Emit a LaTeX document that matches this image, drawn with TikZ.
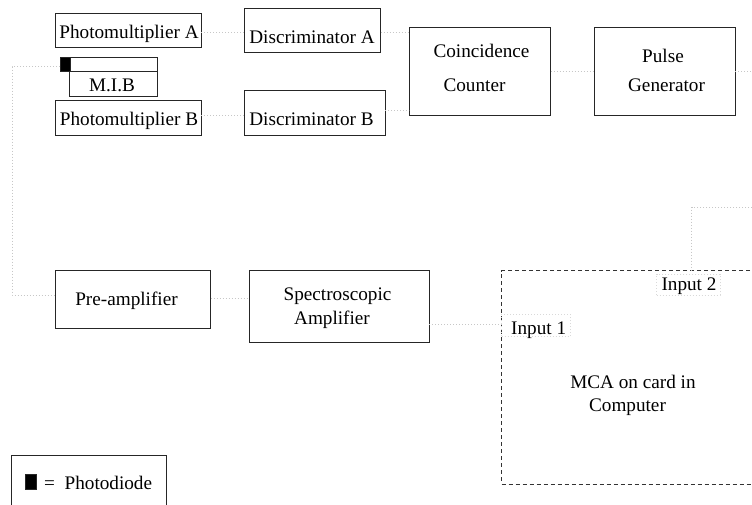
\documentclass[tikz,border=0pt]{standalone}
\usepackage{fontspec}
\setmainfont{Liberation Serif}
\begin{document}
\begin{tikzpicture}[x=1pt,y=-1pt,
  box/.style={draw=black!85, line width=0.8pt, inner sep=0pt, outer sep=0pt, anchor=north west},
  dbox/.style={draw=black!80, line width=0.8pt, dash pattern=on 4pt off 3pt, inner sep=0pt, outer sep=0pt, anchor=north west},
  lblbox/.style={draw=black!15, line width=0.6pt, dash pattern=on 1pt off 2pt, inner sep=0pt, outer sep=0pt, anchor=north west},
  lbl/.style={inner sep=0pt, anchor=base, font=\fontsize{19.2}{23}\selectfont},
  wire/.style={draw=black!22, line width=0.7pt, dash pattern=on 1pt off 2pt}]
\clip (0,0) rectangle (752,504);
% boxes
\node[box, minimum width=146pt, minimum height=34pt] (pa) at (55,13) {};
\node[box, minimum width=97pt, minimum height=14.5pt] (strip) at (60,57) {};
\node[box, fill=black, minimum width=10pt, minimum height=14.5pt] (diode) at (60,57) {};
\node[box, minimum width=88pt, minimum height=24.5pt] (mib) at (69,71.5) {};
\node[box, minimum width=146pt, minimum height=35pt] (pb) at (55,100) {};
\node[box, minimum width=136.4pt, minimum height=44pt] (da) at (244.3,8.3) {};
\node[box, minimum width=141pt, minimum height=44.3pt] (db) at (244.3,90.7) {};
\node[box, minimum width=141.4pt, minimum height=87.6pt] (cc) at (409.3,27.7) {};
\node[box, minimum width=141pt, minimum height=87.6pt] (pg) at (594,27.7) {};
\node[box, minimum width=155.7pt, minimum height=57.6pt] (pre) at (55,270.7) {};
\node[box, minimum width=180pt, minimum height=72pt] (sa) at (249.3,270.7) {};
\node[dbox, minimum width=280pt, minimum height=213.3pt] (mca) at (501.7,270.7) {};
\node[lblbox, minimum width=63.3pt, minimum height=21pt] (in2) at (656.7,274) {};
\node[lblbox, minimum width=68.3pt, minimum height=22.4pt] (in1) at (501.7,314.3) {};
\node[box, minimum width=155.7pt, minimum height=70pt] (leg) at (11,455) {};
\node[box, fill=black, minimum width=11pt, minimum height=15pt] (legd) at (25,474) {};
% texts
\node[lbl] (tpa) at (129,38.3) {Photomultiplier A};
\node[lbl] (tmib) at (112,91) {M.I.B};
\node[lbl] (tpb) at (129,125) {Photomultiplier B};
\node[lbl] (tda) at (312,43.3) {Discriminator A};
\node[lbl] (tdb) at (311.5,125) {Discriminator B};
\node[lbl] (tcc1) at (481.5,57.3) {Coincidence};
\node[lbl] (tcc2) at (474.5,91) {Counter};
\node[lbl] (tpg1) at (663,62.3) {Pulse};
\node[lbl] (tpg2) at (666.5,91) {Generator};
\node[lbl] (tpre) at (126.5,305) {Pre-amplifier};
\node[lbl] (tsa1) at (337.5,300.7) {Spectroscopic};
\node[lbl] (tsa2) at (332,324) {Amplifier};
\node[lbl] (tin2) at (689,290) {Input 2};
\node[lbl] (tin1) at (538.7,334) {Input 1};
\node[lbl] (tmca1) at (633,388.5) {MCA on card in};
\node[lbl] (tmca2) at (627.5,411.5) {Computer};
\node[lbl, anchor=base west] (tleg) at (44,489.3) {=\hspace{0.5em}Photodiode};
% connectors
\coordinate (edgeA) at (752,71);
\coordinate (edgeB) at (752,207);
\draw[wire] (pa.east |- 0,32.7) -- (da.west |- 0,32.7);
\draw[wire] (pb.east |- 0,115.3) -- (db.west |- 0,115.3);
\draw[wire] (da.east |- 0,32.7) -- (cc.west |- 0,32.7);
\draw[wire] (db.east |- 0,110) -- (cc.west |- 0,110);
\draw[wire] (cc.east |- 0,71) -- (pg.west |- 0,71);
\draw[wire] (pg.east |- 0,71) -- (edgeA);
\draw[wire] (diode.west |- 0,66.7) -- (12,66.7) -- (12,295) -- (pre.west |- 0,295);
\draw[wire] (pre.east |- 0,298.5) -- (sa.west |- 0,298.5);
\draw[wire] (sa.east |- 0,324) -- (mca.west |- 0,324);
\draw[wire] (edgeB) -- (691.7,207) -- (mca.north -| 691.7,0);
\end{tikzpicture}
\end{document}
